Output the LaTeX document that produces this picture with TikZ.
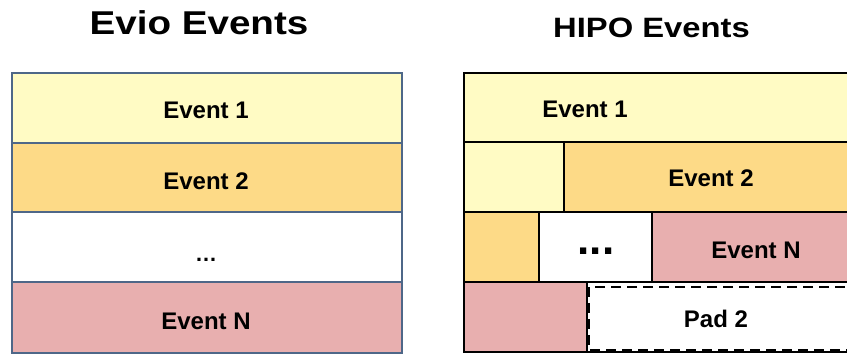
\documentclass[tikz,border=0pt]{standalone}
\usepackage{fontspec}
\setmainfont{Liberation Sans}
\definecolor{cyellow}{HTML}{FFFBC4}
\definecolor{corange}{HTML}{FDDA87}
\definecolor{cpink}{HTML}{E8AFAF}
\definecolor{cframe}{HTML}{4E6788}
\tikzset{
  leftcell/.style={draw=cframe, line width=2pt},
  rightcell/.style={draw=black, line width=2.5pt},
  padcell/.style={draw=black, line width=2.5pt, dash pattern=on 10pt off 6pt, fill=white},
  lbl/.style={font=\fontsize{24}{24}\selectfont\bfseries, inner sep=0pt},
  ttl/.style={inner sep=0pt, xscale=1.17},
}
\begin{document}
\begin{tikzpicture}[x=1pt, y=-1pt]
\useasboundingbox (0,0) rectangle (847,356);
\clip (0,0) rectangle (847,356);
\fill[white] (0,0) rectangle (847,356);
% titles
\node[ttl, font=\fontsize{33}{33}\selectfont\bfseries] (evio) at (199,23) {Evio Events};
\node[ttl, font=\fontsize{28}{28}\selectfont\bfseries] (hipo) at (651.5,28) {HIPO Events};
% left (Evio) stack
\path[leftcell, fill=cyellow] (12,73) rectangle (402,143);
\path[leftcell, fill=corange] (12,143) rectangle (402,212);
\path[leftcell, fill=white] (12,212) rectangle (402,282);
\path[leftcell, fill=cpink] (12,282) rectangle (402,353);
\node[lbl] (le1) at (206,110) {Event 1};
\node[lbl] (le2) at (206,181) {Event 2};
\node[inner sep=0pt, font=\fontsize{22}{22}\selectfont\bfseries, anchor=base] (ldots) at (206,261) {…};
\node[lbl] (leN) at (206,321) {Event N};
% right (HIPO) stack
\path[rightcell, fill=cyellow] (464,73) rectangle (870,142);
\path[rightcell, fill=cyellow] (464,142) rectangle (564,212);
\path[rightcell, fill=corange] (564,142) rectangle (870,212);
\path[rightcell, fill=corange] (464,212) rectangle (539,282);
\path[rightcell, fill=white] (539,212) rectangle (652,282);
\path[rightcell, fill=cpink] (652,212) rectangle (870,282);
\path[rightcell, fill=white] (464,282) rectangle (870,352);
\path[rightcell, fill=cpink] (464,282) rectangle (587,352);
\path[padcell] (589,287) rectangle (870,350);
\node[lbl] (re1) at (585,109) {Event 1};
\node[lbl] (re2) at (711,178) {Event 2};
\node[inner sep=0pt, font=\fontsize{44}{44}\selectfont\bfseries, anchor=base] (rdots) at (596,254) {...};
\node[lbl] (reN) at (756,250) {Event N};
\node[lbl] (rpad) at (716,319) {Pad 2};
\end{tikzpicture}
\end{document}
